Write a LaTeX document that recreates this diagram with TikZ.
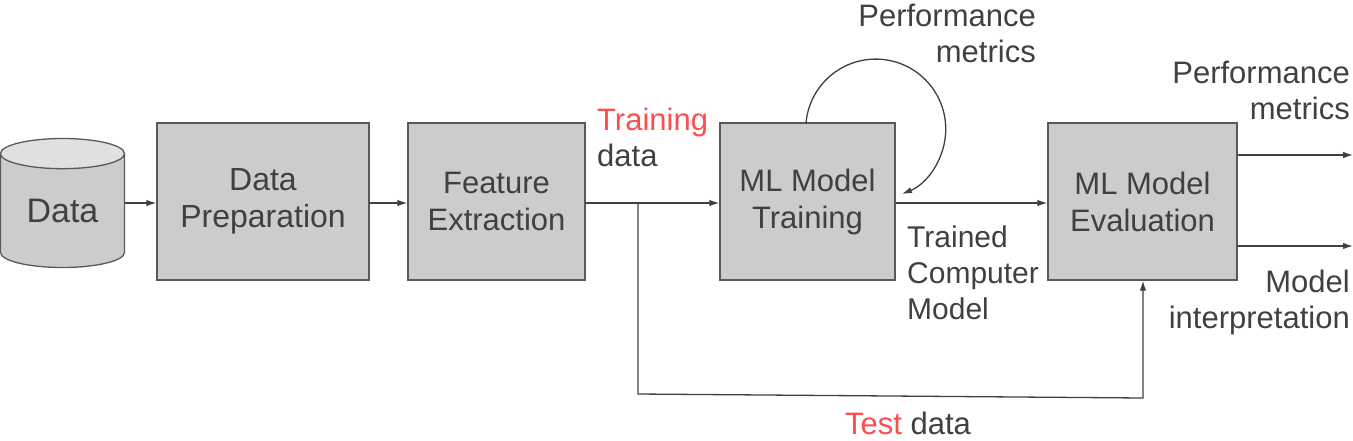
\documentclass[tikz,border=0pt]{standalone}
\usepackage{fontspec}
\setmainfont{Liberation Sans}
\usetikzlibrary{calc}
\usetikzlibrary{arrows.meta}
\usetikzlibrary{shapes.geometric}
\tikzset{>={Latex[length=10pt,width=6.5pt]}}
\colorlet{boxfill}{black!20}
\colorlet{boxline}{black!65}
\colorlet{ink}{black!75}
\colorlet{myred}{red!70!white}
\tikzstyle{stage}=[draw=boxline,fill=boxfill,line width=1.3pt,minimum height=157pt,
  text=ink,align=center,font=\fontsize{31}{37}\selectfont]
\tikzstyle{flow}=[->,ink,line width=1.3pt]
\tikzstyle{label}=[text=ink,font=\fontsize{31}{36}\selectfont,inner sep=0pt]

\begin{document}
\begin{tikzpicture}[x=1pt,y=1pt]
  \useasboundingbox (0,0) rectangle (1353,-440);

  % STAGES
  \node[cylinder,shape border rotate=90,aspect=0.42,draw=boxline,line width=1.3pt,
        cylinder uses custom fill,cylinder body fill=boxfill,cylinder end fill=black!12,
        minimum width=124pt,minimum height=129pt,inner sep=0pt,text=ink,anchor=shape center,
        font=\fontsize{34}{40}\selectfont] (db) at (62.5,-203) {Data};
  \node[stage,minimum width=212pt,font=\fontsize{32}{37}\selectfont] (prep) at (263,-201.5) {Data\\Preparation};
  \node[stage,minimum width=177pt] (feat) at (496.5,-201.5) {Feature\\Extraction};
  \node[stage,minimum width=175pt] (train) at (807.5,-201.5) {ML Model\\Training};
  \node[stage,minimum width=189pt] (eval) at (1142.5,-201.5) {ML Model\\Evaluation};

  % HELPERS
  \coordinate (split) at (638,-203);
  \coordinate (tbl) at (638,-394);
  \coordinate (tbr) at (1143,-398);
  \coordinate (loop) at (806,-123);
  \coordinate (out1) at (1353,-155);
  \coordinate (out2) at (1353,-246);

  % CONNECTORS
  \draw[flow] (db.east |- 0,-203) -- (prep.west |- 0,-203);
  \draw[flow] (prep.east |- 0,-203) -- (feat.west |- 0,-203);
  \draw[flow] (feat.east |- 0,-203) -- (train.west |- 0,-203);
  \draw[flow] (train.east |- 0,-203) -- (eval.west |- 0,-203);
  \draw[flow] (split) -- (tbl) -- (tbr) -- (tbr |- eval.south);
  \draw[flow] (loop) arc[start angle=175,end angle=-68,radius=70];
  \draw[flow] (eval.east |- out1) -- (out1);
  \draw[flow] (eval.east |- out2) -- (out2);

  % LABELS
  \node[label,align=right,anchor=east] (pm1) at (1036,-33) {Performance\\metrics};
  \node[label,align=left,anchor=west] (trd) at (597,-137) {\textcolor{myred}{Training}\\data};
  \node[label,align=left,anchor=west,font=\fontsize{30}{36}\selectfont] (tcm) at (907,-273) {Trained\\Computer\\Model};
  \node[label,align=right,anchor=east] (pm2) at (1350,-90) {Performance\\metrics};
  \node[label,align=right,anchor=east] (mi) at (1350,-302) {Model\\interpretation};
  \node[label] (td) at (908,-423) {\textcolor{myred}{Test} data};
\end{tikzpicture}
\end{document}
